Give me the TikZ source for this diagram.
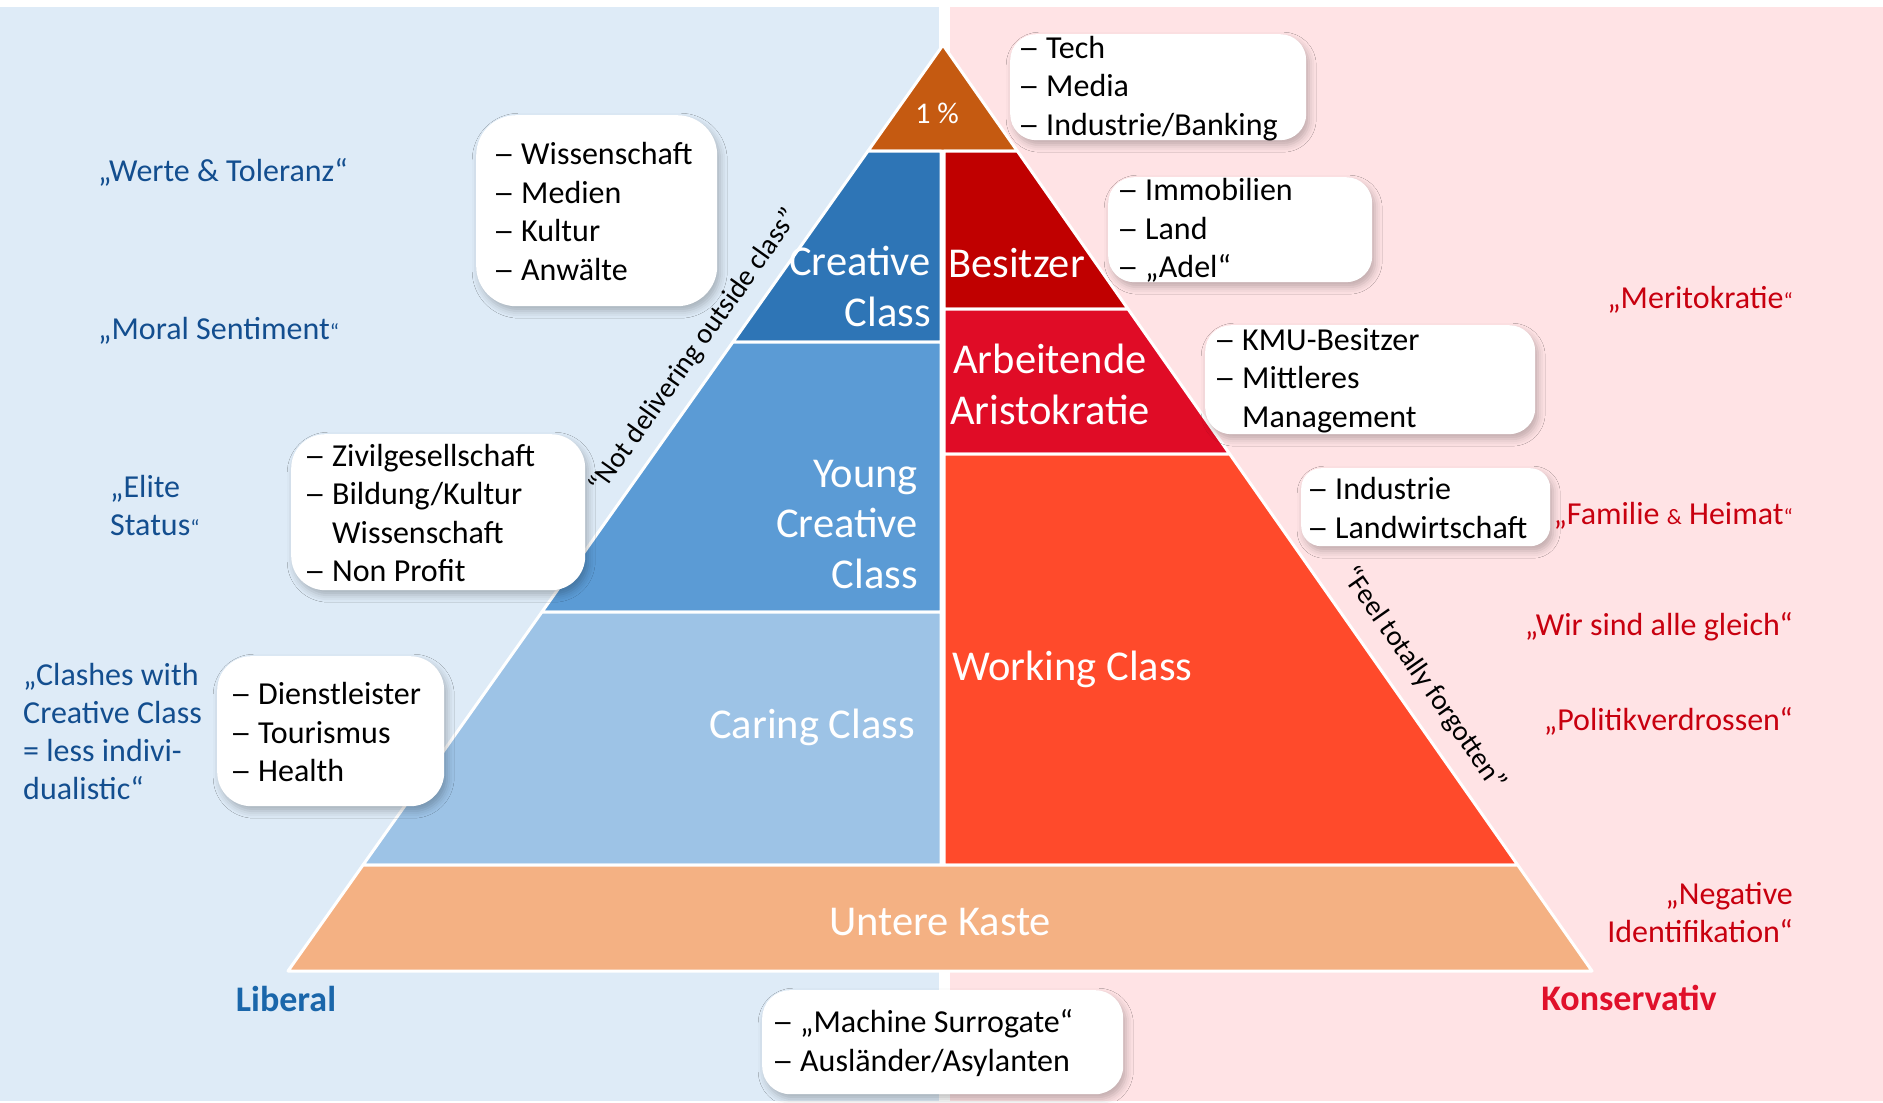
\documentclass[tikz,border=0pt]{standalone}
\usepackage{fontspec}
\usepackage{graphicx}
\setmainfont{Carlito}
\usetikzlibrary{shadows.blur}
\definecolor{bgblue}{HTML}{DEEBF7}
\definecolor{bgpink}{HTML}{FFE3E5}
\definecolor{cpct}{HTML}{C55A11}
\definecolor{ccreative}{HTML}{2E75B6}
\definecolor{cyoung}{HTML}{5B9BD5}
\definecolor{ccaring}{HTML}{9DC3E6}
\definecolor{cuntere}{HTML}{F4B183}
\definecolor{cbesitzer}{HTML}{C00000}
\definecolor{carbeit}{HTML}{E00C26}
\definecolor{cworking}{HTML}{FF4A2B}
\definecolor{tblue}{HTML}{134E8F}
\definecolor{tlib}{HTML}{1A66AA}
\definecolor{tred}{HTML}{C8000F}
\definecolor{tkons}{HTML}{E0102A}
\newcommand\dd[1]{\makebox[28pt][l]{\scalebox{1.35}[1]{–}}#1}
\newcommand\ddc[1]{\hspace*{28pt}#1}
\newcommand\sq{{\fontsize{22}{26}\selectfont“}}
\tikzset{
  layer/.style={draw=white, line width=3pt, line join=round},
  bbox/.style={fill=white, rounded corners=#1, inner sep=0pt,
    blur shadow={shadow xshift=3pt, shadow yshift=-5pt, shadow blur radius=7pt, shadow opacity=25}},
  btext/.style={anchor=west, align=left, inner sep=0pt, text=black,
    font=\fontsize{32}{38.5}\selectfont},
  lab/.style={inner sep=0pt, text=white, font=\fontsize{42.5}{50.5}\selectfont},
  lquote/.style={inner sep=0pt, text=tblue, font=\fontsize{32}{38}\selectfont},
  rquote/.style={inner sep=0pt, text=tred, font=\fontsize{32}{38}\selectfont},
  rotlab/.style={inner sep=0pt, text=black, font=\fontsize{28.5}{33}\selectfont},
}
\begin{document}
\begin{tikzpicture}[x=1pt,y=-1pt]
\useasboundingbox (0,0) rectangle (1883,1103);
% backgrounds
\fill[bgblue] (0,7) rectangle (939,1101);
\fill[bgpink] (950,7) rectangle (1883,1101);
% pyramid layers
\filldraw[layer, fill=cpct] (943,45) -- (1017.3,151) -- (868,151) -- cycle;
\filldraw[layer, fill=ccreative] (868,151) -- (941,151) -- (941,342) -- (732.9,342) -- cycle;
\filldraw[layer, fill=cyoung] (732.9,342) -- (941,342) -- (941,612) -- (541.9,612) -- cycle;
\filldraw[layer, fill=ccaring] (541.9,612) -- (941,612) -- (941,865) -- (363,865) -- cycle;
\filldraw[layer, fill=cbesitzer] (944,151) -- (1017.3,151) -- (1128,309) -- (944,309) -- cycle;
\filldraw[layer, fill=carbeit] (944,309) -- (1128,309) -- (1229.7,454) -- (944,454) -- cycle;
\filldraw[layer, fill=cworking] (944,454) -- (1229.7,454) -- (1517.7,865) -- (944,865) -- cycle;
\filldraw[layer, fill=cuntere] (363,865) -- (1517.7,865) -- (1592,971) -- (288,971) -- cycle;
% layer labels
\node[lab, font=\fontsize{30}{36}\selectfont, anchor=base] (lpct) at (937,123) {1 \%};
\node[lab, anchor=east, align=right] (lcreative) at (931,286.5) {Creative\\Class};
\node[lab, anchor=base west] (lbesitzer) at (948,277.5) {Besitzer};
\node[lab, align=center] (larbeit) at (1050,384.5) {Arbeitende\\Aristokratie};
\node[lab, anchor=east, align=right] (lyoung) at (918,524.5) {Young\\Creative\\Class};
\node[lab, anchor=base east] (lcaring) at (915,738.5) {Caring Class};
\node[lab, anchor=base west] (lworking) at (952,680.5) {Working Class};
\node[lab, anchor=base] (luntere) at (940,935.5) {Untere Kaste};
% rotated comments
\node[rotlab, rotate=54.7, anchor=base] (notdel) at (700.5,356) {“Not delivering outside class”};
\node[rotlab, rotate=-55, anchor=base] (feel) at (1417.2,683.4) {“Feel totally forgotten”};
% bullet boxes
\node[bbox=26pt, minimum width=296pt, minimum height=106pt, anchor=north west] (b1) at (1010,34) {};
\node[btext] (t1) at ([xshift=8pt,yshift=-1pt]b1.west) {\dd{Tech}\\\dd{Media}\\\dd{Industrie/Banking}};
\node[bbox=40pt, minimum width=241pt, minimum height=191pt, anchor=north west] (b2) at (476,115) {};
\node[btext] (t2) at ([xshift=17pt,yshift=-1pt]b2.west) {\dd{Wissenschaft}\\\dd{Medien}\\\dd{Kultur}\\\dd{Anwälte}};
\node[bbox=26pt, minimum width=264pt, minimum height=105pt, anchor=north west] (b3) at (1108,177) {};
\node[btext] (t3) at ([xshift=9pt,yshift=-1pt]b3.west) {\dd{Immobilien}\\\dd{Land}\\\dd{„Adel“}};
\node[bbox=26pt, minimum width=330pt, minimum height=109pt, anchor=north west] (b4) at (1205,325) {};
\node[btext] (t4) at ([xshift=9pt,yshift=-1pt]b4.west) {\dd{KMU-Besitzer}\\\dd{Mittleres}\\\ddc{Management}};
\node[bbox=20pt, minimum width=249pt, minimum height=78pt, anchor=north west] (b5) at (1301,468) {};
\node[btext] (t5) at ([xshift=6pt,yshift=-1pt]b5.west) {\dd{Industrie}\\\dd{Landwirtschaft}};
\node[bbox=34pt, minimum width=294pt, minimum height=156pt, anchor=north west] (b6) at (291,434) {};
\node[btext] (t6) at ([xshift=13pt,yshift=-1pt]b6.west) {\dd{Zivilgesellschaft}\\\dd{Bildung/Kultur}\\\ddc{Wissenschaft}\\\dd{Non Profit}};
\node[bbox=34pt, minimum width=227pt, minimum height=150pt, anchor=north west] (b7) at (217,656) {};
\node[btext] (t7) at ([xshift=13pt,yshift=-1pt]b7.west) {\dd{Dienstleister}\\\dd{Tourismus}\\\dd{Health}};
\node[bbox=28pt, minimum width=361pt, minimum height=104pt, anchor=north west] (b8) at (762,990) {};
\node[btext] (t8) at ([xshift=10pt,yshift=-1pt]b8.west) {\dd{„Machine Surrogate“}\\\dd{Ausländer/Asylanten}};
% left quotes
\node[lquote, anchor=base west] (qwerte) at (98,181) {„Werte \& Toleranz“};
\node[lquote, anchor=base west] (qmoral) at (98,339) {„Moral Sentiment\sq};
\node[lquote, anchor=west, align=left] (qelite) at (110,506) {„Elite\\Status\sq};
\node[lquote, anchor=west, align=left] (qclash) at (23,731) {„Clashes with\\Creative Class\\= less indivi-\\dualistic“};
\node[inner sep=0pt, text=tlib, font=\fontsize{36}{42}\selectfont\bfseries, anchor=base] (liberal) at (286,1011.5) {Liberal};
% right quotes
\node[rquote, anchor=base east] (qmerit) at (1793,308) {„Meritokratie\sq};
\node[rquote, anchor=base east] (qfam) at (1793,524) {„Familie {\fontsize{22}{26}\selectfont\&} Heimat\sq};
\node[rquote, anchor=base east] (qwir) at (1793,635) {„Wir sind alle gleich“};
\node[rquote, anchor=base east] (qpol) at (1793,730) {„Politikverdrossen“};
\node[rquote, anchor=east, align=right] (qneg) at (1793,912.5) {„Negative\\Identifikation“};
\node[inner sep=0pt, text=tkons, font=\fontsize{36}{42}\selectfont\bfseries, anchor=base] (kons) at (1629,1010.5) {Konservativ};
\end{tikzpicture}
\end{document}
